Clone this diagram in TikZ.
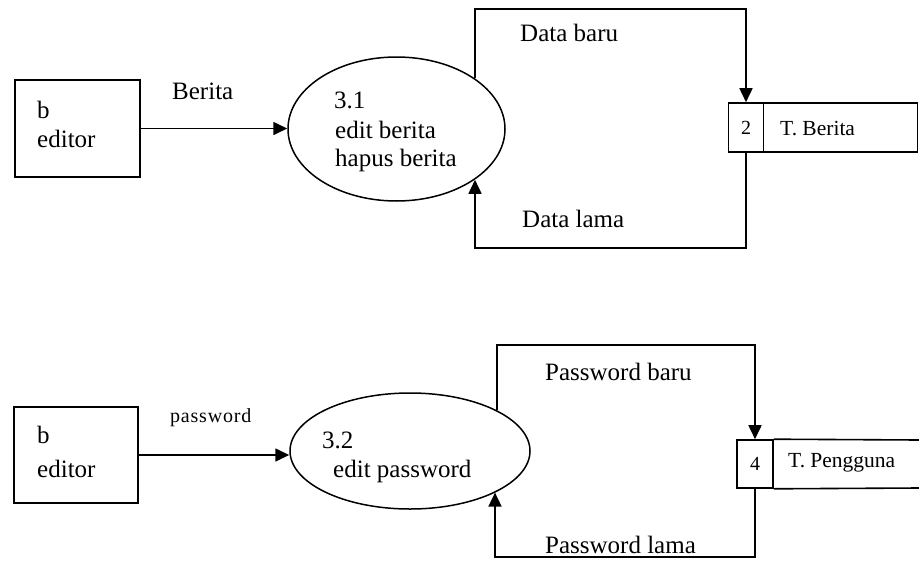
\documentclass[tikz,border=0pt]{standalone}
\usepackage{fontspec}
\setmainfont{Liberation Serif}
\usetikzlibrary{arrows.meta,shapes.geometric}
\begin{document}
\begin{tikzpicture}[x=1pt,y=-1pt,
  ent/.style={draw, line width=1.7pt, rectangle, inner sep=0pt},
  proc/.style={draw, line width=1.5pt, ellipse, inner sep=0pt},
  cell/.style={draw, line width=1.6pt, rectangle, inner sep=0pt, font=\fontsize{20}{22}\selectfont},
  flow/.style={line width=1.7pt, -{Triangle[length=14pt,width=13pt]}},
  plain/.style={line width=1.6pt},
  lbl/.style={inner sep=0pt, anchor=base west, font=\fontsize{25}{29}\selectfont},
  storelbl/.style={inner sep=0pt, anchor=base west, font=\fontsize{21.5}{24}\selectfont},
  smalllbl/.style={inner sep=0pt, anchor=base west, font=\fontsize{20}{24}\selectfont\addfontfeature{LetterSpace=4}},
]
\useasboundingbox (0,0) rectangle (919,560);

% ---------- top part ----------
\node[ent, minimum width=125pt, minimum height=97pt] (ed1) at (77.5,128.5) {};
\node[lbl] (ed1b) at (37,118) {b};
\node[lbl] (ed1e) at (37,147) {editor};

\node[proc, minimum width=217pt, minimum height=144pt] (p1) at (396.5,129) {};
\node[lbl] (p1a) at (334,108) {3.1};
\node[lbl] (p1b) at (335,138) {edit berita};
\node[lbl] (p1c) at (335,166) {hapus berita};

\node[cell, minimum width=35pt, minimum height=49pt] (s1num) at (746,127.5) {2};
\node[cell, minimum width=154pt, minimum height=49pt] (s1name) at (840.5,127.5) {};
\node[storelbl] (s1txt) at (780,135) {T. Berita};

\draw[flow] (ed1.east) -- (ed1.east -| p1.west);
\node[lbl] (l1) at (172,99) {Berita};

\coordinate (t1) at (746,9);
\draw[flow] (p1.33.7) |- (t1) -- (s1num.north);
\node[lbl] (l2) at (520,41) {Data baru};

\coordinate (b1) at (475,248);
\draw[flow] (s1num.south) |- (b1) -- (b1 |- p1.327.7);
\node[lbl] (l3) at (522,227) {Data lama};

% ---------- bottom part ----------
\node[ent, minimum width=124pt, minimum height=96pt] (ed2) at (76,455) {};
\node[lbl] (ed2b) at (37,443) {b};
\node[lbl] (ed2e) at (37,477) {editor};

\node[proc, minimum width=240pt, minimum height=116pt] (p2) at (410,451) {};
\node[lbl] (p2a) at (322,448) {3.2};
\node[lbl] (p2b) at (333,477) {edit password};

\node[cell, minimum width=36pt, minimum height=48pt] (s2num) at (755,464) {4};
\coordinate (s2a) at (919,440);
\coordinate (s2b) at (919,488);
\draw[plain] (s2num.north east) -- (s2a);
\draw[plain] (s2num.south east) -- (s2b);
\node[storelbl] (s2txt) at (788,467) {T. Pengguna};

\draw[flow] (ed2.east) -- (ed2.east -| p2.west);
\node[smalllbl] (l4) at (170,422) {password};

\coordinate (t2) at (755,345);
\draw[flow] (p2.25.7) |- (t2) -- (s2num.north);
\node[lbl] (l5) at (545,380) {Password baru};

\coordinate (b2) at (495,557);
\draw[flow] (s2num.south) |- (b2) -- (b2 |- p2.334.3);
\node[lbl] (l6) at (545,553) {Password lama};
\end{tikzpicture}
\end{document}
